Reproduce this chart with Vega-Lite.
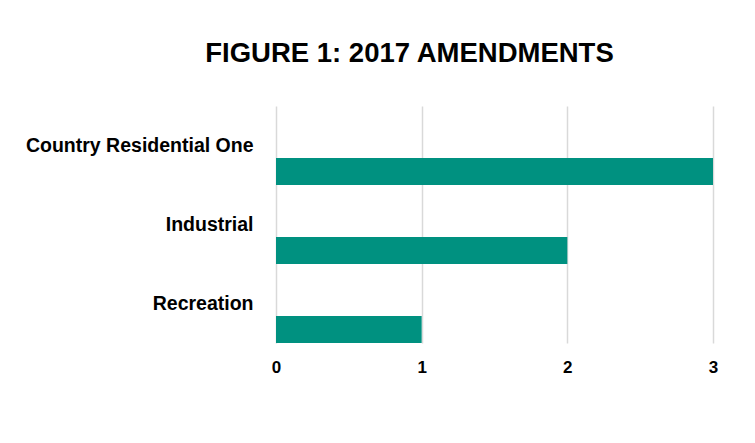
{
  "$schema": "https://vega.github.io/schema/vega-lite/v6.json",
  "autosize": {"type": "none"},
  "padding": {"left": 276, "top": 106, "right": 42, "bottom": 100},
  "width": 437,
  "height": 237,
  "background": "white",
  "title": {
    "text": "FIGURE 1: 2017 AMENDMENTS",
    "font": "Liberation Sans",
    "fontSize": 27.5,
    "fontWeight": "bold",
    "color": "#000000",
    "anchor": "middle",
    "dx": -85,
    "offset": 39
  },
  "data": {
    "values": [
      {"zone": "Country Residential One", "amendments": 3},
      {"zone": "Industrial", "amendments": 2},
      {"zone": "Recreation", "amendments": 1}
    ]
  },
  "mark": {"type": "bar", "color": "#009180", "height": 27, "yOffset": 26},
  "encoding": {
    "y": {
      "field": "zone",
      "type": "nominal",
      "sort": null,
      "scale": {"paddingInner": 0, "paddingOuter": 0},
      "axis": {
        "title": null,
        "ticks": false,
        "domain": false,
        "labelPadding": 23,
        "labelFont": "Liberation Sans",
        "labelFontSize": 19.5,
        "labelFontWeight": "bold",
        "labelColor": "#000000",
        "labelLimit": 400
      }
    },
    "x": {
      "field": "amendments",
      "type": "quantitative",
      "scale": {"domain": [0, 3], "nice": false},
      "axis": {
        "title": null,
        "values": [0, 1, 2, 3],
        "ticks": false,
        "domain": false,
        "grid": true,
        "gridColor": "#d9d9d9",
        "gridWidth": 1.5,
        "labelPadding": 16,
        "labelFont": "Liberation Sans",
        "labelFontSize": 17,
        "labelFontWeight": "bold",
        "labelColor": "#000000",
        "labelFlush": false
      }
    }
  },
  "config": {"view": {"stroke": null}}
}
